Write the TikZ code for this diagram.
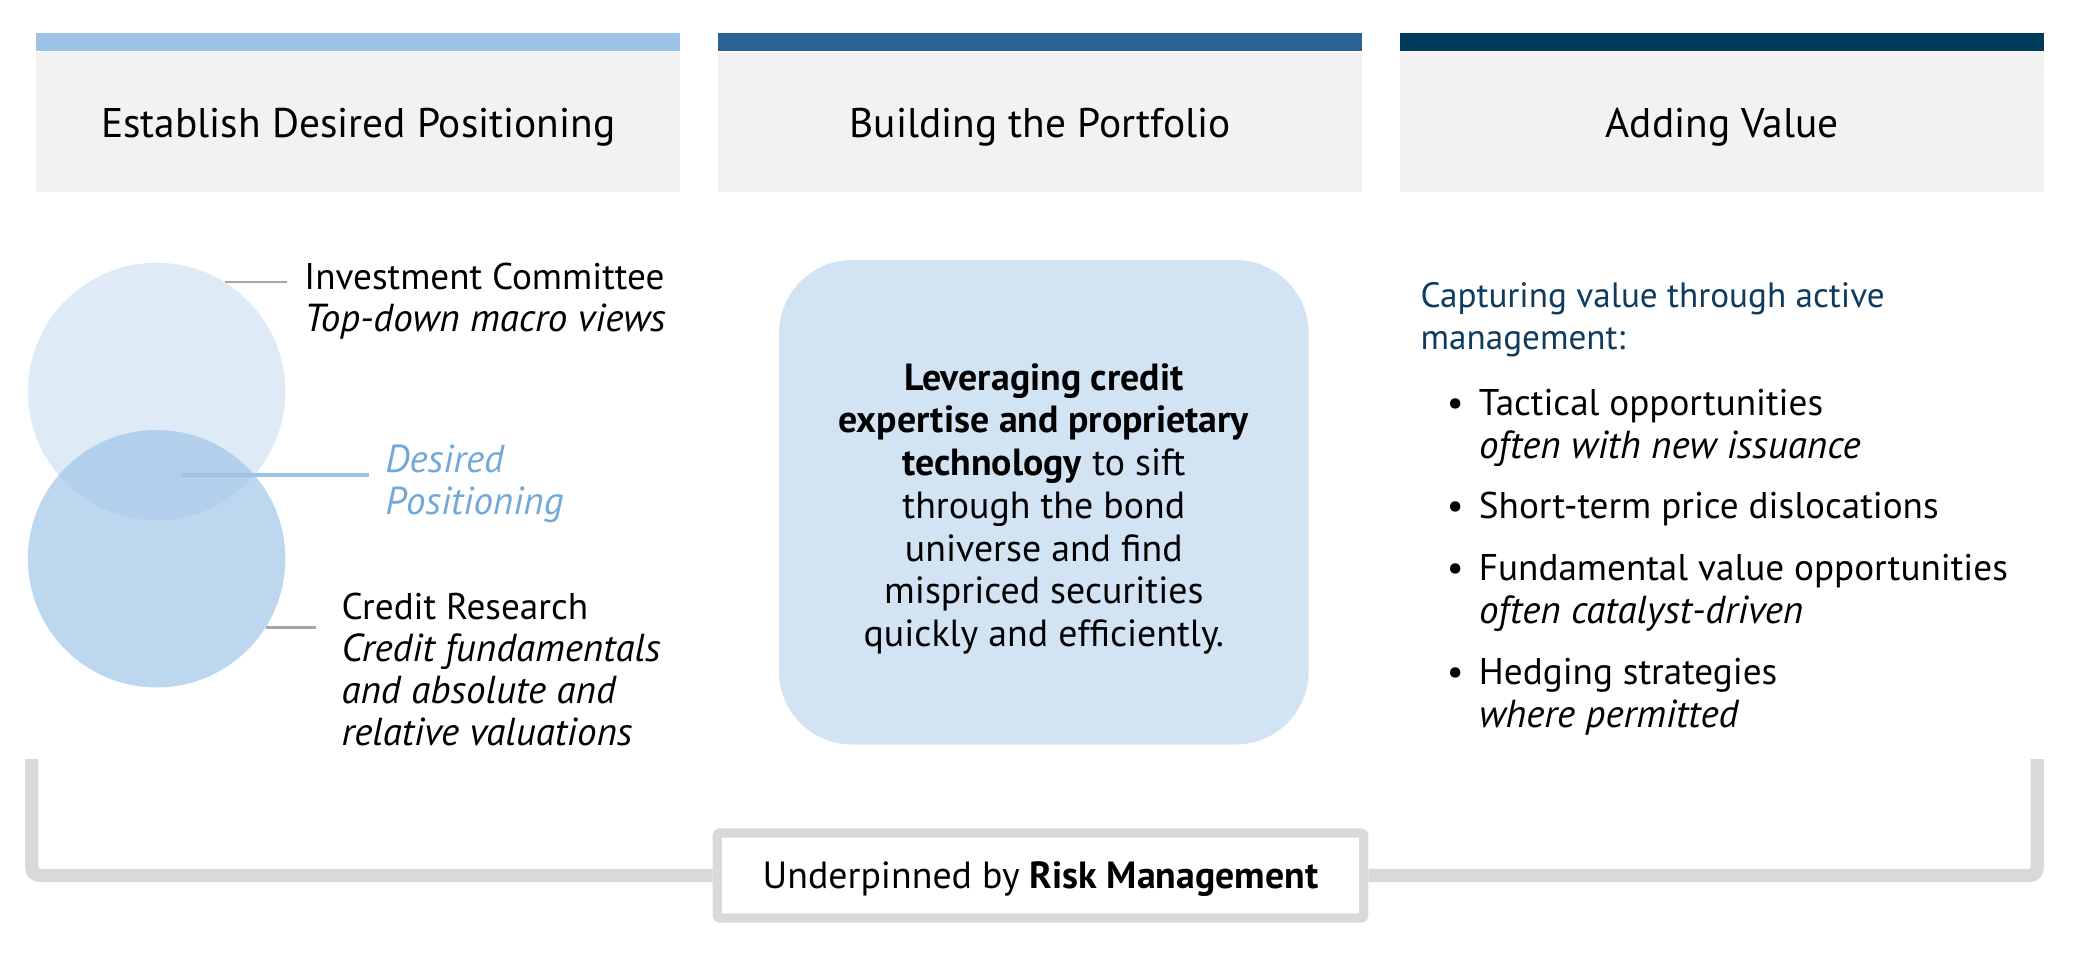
\documentclass[tikz,border=0pt]{standalone}
\usepackage{fontspec}
\setmainfont{PT Sans}[ItalicFeatures={Scale=1.05}]
\usetikzlibrary{positioning}

\definecolor{barlight}{HTML}{9DC3E6}
\definecolor{barmid}{HTML}{2A6496}
\definecolor{bardark}{HTML}{003B5C}
\definecolor{headgray}{HTML}{F2F2F2}
\definecolor{circtop}{HTML}{DEEBF7}
\definecolor{boxblue}{HTML}{D2E3F3}
\definecolor{desired}{HTML}{73A9D9}
\definecolor{leadgray}{HTML}{A6A6A6}
\definecolor{brackgray}{HTML}{D9D9D9}
\definecolor{navytext}{HTML}{0E3B5E}

\begin{document}
\begin{tikzpicture}[x=1pt, y=-1pt, thick]

		% Styles
		\tikzstyle{header} = [fill=headgray, minimum width=485pt, minimum height=106pt, inner sep=0pt, text height=23pt, text depth=0pt, font=\fontsize{31.2}{36}\selectfont];
		\tikzstyle{topbar} = [minimum width=485pt, minimum height=13pt, inner sep=0pt];
		\tikzstyle{venn} = [circle, minimum size=194pt, inner sep=0pt];
		\tikzstyle{note} = [anchor=north west, inner sep=0pt, align=left, font=\fontsize{28}{31.7}\selectfont];
		\tikzstyle{bulletitem} = [note, font=\fontsize{28}{32.5}\selectfont];
		\tikzstyle{leader} = [draw=leadgray, line width=2pt];
		\tikzstyle{valuebox} = [fill=boxblue, rounded corners=55pt, minimum width=399pt, minimum height=365pt, align=center, font=\fontsize{28.5}{32.2}\selectfont];
		\tikzstyle{riskbox} = [draw=brackgray, line width=7pt, fill=white, minimum width=487pt, minimum height=64pt, rounded corners=2pt, text depth=0pt, font=\fontsize{28.5}{31.5}\selectfont];
		\tikzstyle{bracket} = [draw=brackgray, line width=10pt, rounded corners=6pt];

		\useasboundingbox (0,0) rectangle (1568,727.1);

		% Headers
		\node[header] (estab) at (270,92) {Establish Desired Positioning};
		\node[header, right=28pt of estab] (build) {Building the Portfolio};
		\node[header, right=28pt of build] (adding) {Adding Value};
		\node[topbar, fill=barlight, above=0pt of estab] (estabbar) {};
		\node[topbar, fill=barmid, above=0pt of build] (buildbar) {};
		\node[topbar, fill=bardark, above=0pt of adding] (addingbar) {};

		% Venn
		\node[venn, fill=circtop] (ic) at (118,295) {};
		\node[venn, fill=barlight, fill opacity=0.67] (cr) at (118,421) {};
		\coordinate (overlap) at (118,358);

		\node[note] (ictext) at (229,197.5) {Investment Committee\\\textit{Top-down macro views}};
		\node[note, text=desired] (dptext) at (290,335) {\textit{Desired}\\\textit{Positioning}};
		\node[note] (crtext) at (257,446.5) {Credit Research\\\textit{Credit fundamentals}\\\textit{and absolute and}\\\textit{relative valuations}};

		\draw[leader, shorten >=13pt] (ic.58) -- (ic.58 -| ictext.west);
		\draw[draw=barlight, line width=3pt, shorten <=19pt, shorten >=12pt] (overlap) -- (overlap -| dptext.west);
		\draw[leader, shorten >=19pt] (cr.-32) -- (cr.-32 -| crtext.west);

		% Portfolio
		\node[valuebox] (lev) at (786.5,378.5) {\rule{0pt}{30pt}\textbf{Leveraging credit}\\\textbf{expertise and proprietary}\\\textbf{technology} to sift\\through the bond\\universe and find\\mispriced securities\\quickly and efficiently.};

		% Value
		\node[note, text=navytext, font=\fontsize{26.5}{31.7}\selectfont] (capt) at (1070,212.5) {Capturing value through active\\management:};
		\node[bulletitem] (tact) at (1114,292.5) {\llap{\textbullet\hspace{11.5pt}}Tactical opportunities\\\textit{often with new issuance}};
		\node[bulletitem] (short) at (1114,370.5) {\llap{\textbullet\hspace{11.5pt}}Short-term price dislocations};
		\node[bulletitem] (fund) at (1114,417) {\llap{\textbullet\hspace{11.5pt}}Fundamental value opportunities\\\textit{often catalyst-driven}};
		\node[bulletitem] (hedg) at (1114,495.5) {\llap{\textbullet\hspace{11.5pt}}Hedging strategies\\\textit{where permitted}};

		% Risk
		\node[riskbox] (risk) at (784,659.7) {Underpinned by \textbf{Risk Management}};
		\coordinate (brl) at (24,572);
		\coordinate (brr) at (1535,572);
		\draw[bracket] (brl) |- (risk.west);
		\draw[bracket] (risk.east) -| (brr);

	\end{tikzpicture}
\end{document}
